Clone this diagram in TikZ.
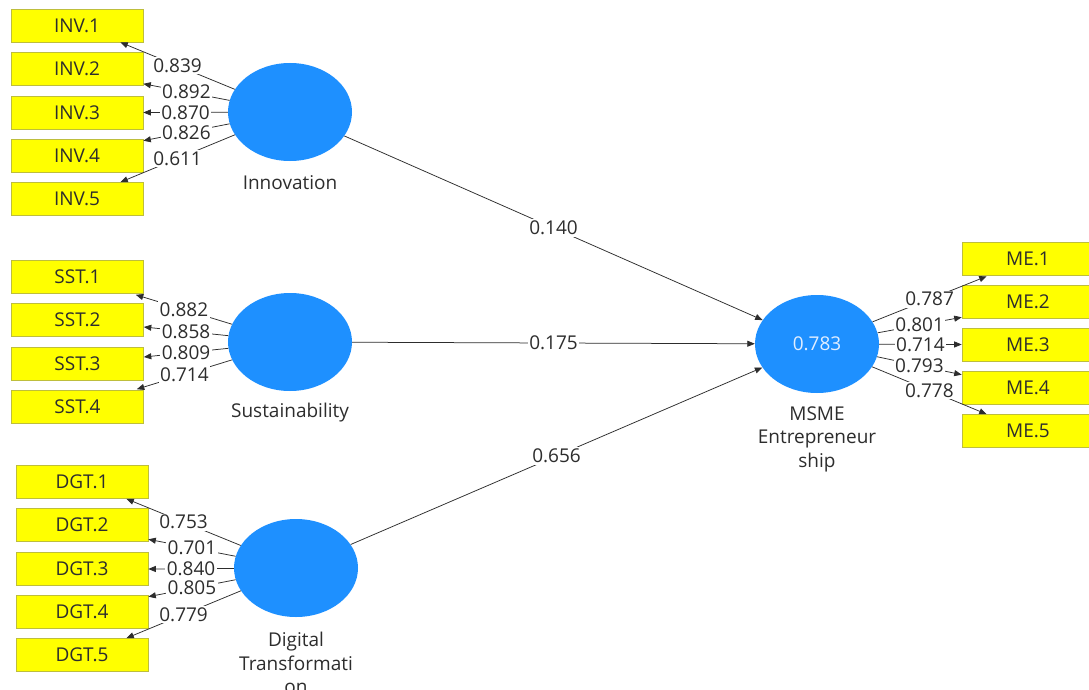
\documentclass[tikz,border=0pt]{standalone}
\usepackage{fontspec}
\setmainfont{Open Sans}
\usetikzlibrary{arrows.meta,calc,shapes.geometric}
\definecolor{lvblue}{RGB}{30,144,255}
\definecolor{mvyellow}{RGB}{255,255,0}
\definecolor{mvborder}{RGB}{190,190,60}
\definecolor{ink}{RGB}{45,45,45}
\definecolor{lvtext}{RGB}{225,238,255}
\newcommand{\figfont}{\fontsize{19}{23.5}\selectfont}
\begin{document}
\begin{tikzpicture}[x=1pt,y=-1pt,
  mv/.style={draw=mvborder, line width=0.6pt, fill=mvyellow, minimum width=132pt, minimum height=33pt, inner sep=0pt, text=ink, font=\figfont},
  lv/.style={ellipse, fill=lvblue, minimum width=124pt, minimum height=98pt, inner sep=0pt, text=lvtext, font=\figfont},
  lbl/.style={text=ink, font=\figfont, align=center},
  ld/.style={draw=ink, line width=0.75pt, -{Triangle[length=7.5pt,width=6pt]}},
  val/.style={fill=white, inner sep=1.5pt, text=ink, font=\figfont, midway}
]
\useasboundingbox (0,0) rectangle (1089,690);
\clip (0,0) rectangle (1089,690);
\fill[white] (0,0) rectangle (1089,690);

% indicator boxes
\node[mv] (inv1) at (77,25.5) {INV.1};
\node[mv] (inv2) at (77,69) {INV.2};
\node[mv] (inv3) at (77,112.5) {INV.3};
\node[mv] (inv4) at (77,156) {INV.4};
\node[mv] (inv5) at (77,199) {INV.5};

\node[mv] (sst1) at (77.5,277) {SST.1};
\node[mv] (sst2) at (77.5,320) {SST.2};
\node[mv] (sst3) at (77.5,364) {SST.3};
\node[mv] (sst4) at (77.5,407) {SST.4};

\node[mv] (dgt1) at (82,482) {DGT.1};
\node[mv] (dgt2) at (82,525) {DGT.2};
\node[mv] (dgt3) at (82,569) {DGT.3};
\node[mv] (dgt4) at (82,612) {DGT.4};
\node[mv] (dgt5) at (82,655) {DGT.5};

\node[mv] (me1) at (1028,258.5) {ME.1};
\node[mv] (me2) at (1028,301.5) {ME.2};
\node[mv] (me3) at (1028,344.5) {ME.3};
\node[mv] (me4) at (1028,387.5) {ME.4};
\node[mv] (me5) at (1028,431) {ME.5};

% latent variables
\node[lv] (inn) at (290,112) {};
\node[lv] (sus) at (290,342) {};
\node[lv] (dgt) at (296,568) {};
\node[lv] (mse) at (817,344) {0.783};

\node[lbl] (innl) at (290,183) {Innovation};
\node[lbl] (susl) at (290,413) {Sustainability};
\node[lbl] (dgtl) at (296,663) {Digital\\Transformati\\on};
\node[lbl] (msel) at (817,439) {MSME\\Entrepreneur\\ship};

% structural paths
\draw[ld] (inn) -- (mse) node[val] {0.140};
\draw[ld] (sus) -- (mse) node[val] {0.175};
\draw[ld] (dgt) -- (mse) node[val] {0.656};

% Innovation loadings
\draw[ld] (inn) -- ($(inv1.south east)+(-23,0)$) node[val] {0.839};
\draw[ld] (inn) -- ($(inv2.south east)+(0,-2)$) node[val] {0.892};
\draw[ld] (inn) -- (inv3.east) node[val] {0.870};
\draw[ld] (inn) -- ($(inv4.north east)+(0,1.5)$) node[val] {0.826};
\draw[ld] (inn) -- ($(inv5.north east)+(-23,0)$) node[val] {0.611};

% Sustainability loadings
\draw[ld] (sus) -- ($(sst1.south east)+(-8,1)$) node[val] {0.882};
\draw[ld] (sus) -- ($(sst2.east)+(0,7)$) node[val] {0.858};
\draw[ld] (sus) -- ($(sst3.east)+(0,-7)$) node[val] {0.809};
\draw[ld] (sus) -- ($(sst4.north east)+(-7,-1)$) node[val] {0.714};

% Digital transformation loadings
\draw[ld] (dgt) -- ($(dgt1.south east)+(-22,0)$) node[val] {0.753};
\draw[ld] (dgt) -- ($(dgt2.south east)+(0,-2.5)$) node[val] {0.701};
\draw[ld] (dgt) -- (dgt3.east) node[val] {0.840};
\draw[ld] (dgt) -- ($(dgt4.north east)+(0,1.5)$) node[val] {0.805};
\draw[ld] (dgt) -- ($(dgt5.north east)+(-22,0)$) node[val] {0.779};

% MSME loadings
\draw[ld] (mse) -- ($(me1.south west)+(25,1)$) node[val] {0.787};
\draw[ld] (mse) -- ($(me2.south west)+(0,-1)$) node[val] {0.801};
\draw[ld] (mse) -- (me3.west) node[val] {0.714};
\draw[ld] (mse) -- ($(me4.north west)+(0,4)$) node[val] {0.793};
\draw[ld] (mse) -- ($(me5.north west)+(25,0)$) node[val] {0.778};
\end{tikzpicture}
\end{document}
